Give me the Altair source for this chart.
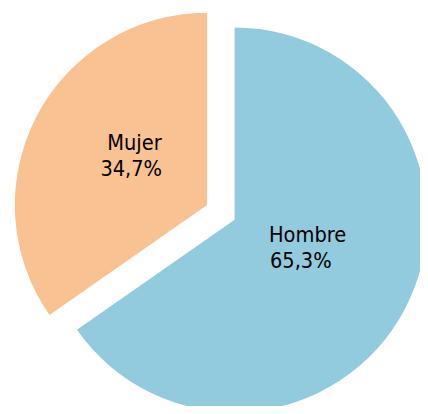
import altair as alt
import pandas as pd

categories = ["Hombre", "Mujer"]
values = [65.3, 34.7]
pct_labels = ["65,3%", "34,7%"]
colors = ["#92CBDD", "#F9C293"]

df = pd.DataFrame({"cat": categories, "value": values, "pct": pct_labels,
                   "order": list(range(len(categories)))})

FONT = "Liberation Sans Narrow, Arial Narrow, DejaVu Sans Condensed, sans-serif"
CX, CY, R = 231, 212, 196

# per-slice style: explode offset, label radius, name dx/dy, pct dx/dy
style = {
    "Hombre": dict(ox=0, oy=0, lr=70, ndx=-27, ndy=-10, pdx=-26, pdy=17),
    "Mujer": dict(ox=-28, oy=-15, lr=90, ndx=-22, ndy=-15, pdx=-29, pdy=12),
}

base = (
    alt.Chart(df)
    .transform_joinaggregate(total="sum(value)")
    .transform_window(cum="sum(value)", sort=[alt.SortField("order")])
    .transform_calculate(
        t1="datum.cum / datum.total * 2 * PI",
        t0="(datum.cum - datum.value) / datum.total * 2 * PI",
    )
    .transform_calculate(tm="(datum.t0 + datum.t1) / 2")
)

layers = []
for cat, col in zip(categories, colors):
    s = style[cat]
    sub = base.transform_filter(alt.datum.cat == cat)
    arc = sub.mark_arc(outerRadius=R, color=col, xOffset=s["ox"], yOffset=s["oy"]).encode(
        theta=alt.Theta("t0:Q", scale=None),
        theta2=alt.Theta2("t1:Q"),
        x=alt.value(CX),
        y=alt.value(CY),
    )
    name = sub.mark_text(
        align="left", baseline="alphabetic", font=FONT, fontSize=22, color="#000000",
        xOffset=s["ox"], yOffset=s["oy"], dx=s["ndx"], dy=s["ndy"],
    ).encode(
        theta=alt.Theta("tm:Q", scale=None),
        radius=alt.value(s["lr"]),
        x=alt.value(CX),
        y=alt.value(CY),
        text="cat:N",
    )
    pct = sub.mark_text(
        align="left", baseline="alphabetic", font=FONT, fontSize=22, color="#000000",
        xOffset=s["ox"], yOffset=s["oy"], dx=s["pdx"], dy=s["pdy"],
    ).encode(
        theta=alt.Theta("tm:Q", scale=None),
        radius=alt.value(s["lr"]),
        x=alt.value(CX),
        y=alt.value(CY),
        text="pct:N",
    )
    layers += [arc, name, pct]

chart = (
    alt.layer(*layers)
    .properties(width=420, height=398, padding=0, autosize=alt.AutoSizeParams(type="none"),
                background="#ffffff")
    .configure_view(stroke=None)
)

chart.save("out.html", embed_options={"renderer": "svg", "actions": False})
